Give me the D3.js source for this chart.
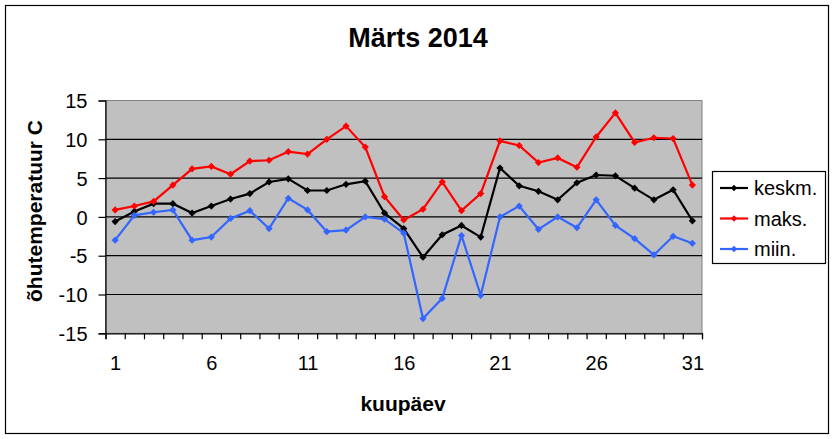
<!DOCTYPE html>
<html>
<head>
<meta charset="utf-8">
<script src="https://cdn.jsdelivr.net/npm/d3@7"></script>
<style>
  body { margin: 0; background: #fff; }
  text { font-family: "Liberation Sans", Arial, sans-serif; fill: #000; }
</style>
</head>
<body>
<div id="chart"></div>
<script>
// days of the month and the three temperature series
var days   = [1, 2, 3, 4, 5, 6, 7, 8, 9, 10, 11, 12, 13, 14, 15, 16,
              17, 18, 19, 20, 21, 22, 23, 24, 25, 26, 27, 28, 29, 30, 31];
var keskm  = [-0.6, 0.7, 1.7, 1.7, 0.5, 1.4, 2.3, 3.0, 4.5, 4.9, 3.4, 3.4, 4.2, 4.6, 0.5, -1.5,
              -5.2, -2.3, -1.1, -2.6, 6.3, 4.0, 3.3, 2.2, 4.4, 5.4, 5.3, 3.7, 2.2, 3.5, -0.5];
var maks   = [0.9, 1.4, 2.0, 4.1, 6.2, 6.5, 5.5, 7.2, 7.3, 8.4, 8.1, 10.0, 11.7, 9.0, 2.6, -0.4,
              1.0, 4.5, 0.8, 3.0, 9.8, 9.2, 7.0, 7.6, 6.4, 10.3, 13.4, 9.6, 10.2, 10.1, 4.1];
var miin   = [-3.0, 0.2, 0.6, 0.9, -3.0, -2.6, -0.2, 0.8, -1.5, 2.4, 0.9, -1.9, -1.7, 0.0, -0.3, -2.1,
              -13.1, -10.5, -2.4, -10.1, 0.0, 1.4, -1.6, 0.0, -1.4, 2.2, -1.1, -2.8, -4.9, -2.5, -3.4];
var yTicks = [-15, -10, -5, 0, 5, 10, 15];
var xLabels = [1, 6, 11, 16, 21, 26, 31];

var seriesNames  = ['keskm.', 'maks.', 'miin.'];
var seriesValues = [keskm, maks, miin];

var WIDTH = 835, HEIGHT = 439;
var PLOT = { left: 105.5, right: 702, top: 100.5, bottom: 333.3 };
var COLORS = ['#000000', '#ff0000', '#3366ff'];

var svg = d3.select('#chart')
            .append('svg')
            .attr('width', WIDTH)
            .attr('height', HEIGHT);

// outer chart border
svg.append('rect')
   .attr('x', 5.5).attr('y', 5.5)
   .attr('width', 823).attr('height', 428)
   .attr('fill', '#fff')
   .attr('stroke', '#000')
   .attr('stroke-width', 1.2);

// scales: days sit in the middle of each category slot
var x = d3.scaleLinear().domain([0.5, 31.5]).range([PLOT.left, PLOT.right]);
var y = d3.scaleLinear().domain([-15, 15]).range([PLOT.bottom, PLOT.top]);

// grey plot area
svg.append('rect')
   .attr('x', PLOT.left).attr('y', PLOT.top)
   .attr('width', PLOT.right - PLOT.left).attr('height', PLOT.bottom - PLOT.top)
   .attr('fill', '#c0c0c0')
   .attr('stroke', '#808080')
   .attr('stroke-width', 1);

// horizontal gridlines
svg.append('g')
   .selectAll('line')
   .data(yTicks.slice(1, -1))
   .enter()
   .append('line')
   .attr('x1', PLOT.left).attr('x2', PLOT.right)
   .attr('y1', function(d) { return y(d); })
   .attr('y2', function(d) { return y(d); })
   .attr('stroke', '#000')
   .attr('stroke-width', 1.2);

// plain hyphen minus like the original, not the unicode minus
var plain = function(d) { return String(d); };

// y axis
var yAxis = svg.append('g')
   .attr('transform', 'translate(' + PLOT.left + ',0)')
   .call(d3.axisLeft(y).tickValues(yTicks).tickSize(7).tickPadding(11).tickFormat(plain));
yAxis.selectAll('text').style('font-size', '20px').attr('dy', '0.36em');

// x axis: tick marks on the slot boundaries
svg.append('g')
   .attr('transform', 'translate(0,' + PLOT.bottom + ')')
   .call(d3.axisBottom(x).tickValues(d3.range(0.5, 32, 1)).tickSize(6).tickFormat(''));

// x axis labels every fifth day, centred in their slot
var xLabelAxis = svg.append('g')
   .attr('transform', 'translate(0,' + PLOT.bottom + ')')
   .call(d3.axisBottom(x).tickValues(xLabels).tickSize(0).tickPadding(23).tickFormat(plain));
xLabelAxis.select('.domain').remove();
xLabelAxis.selectAll('text').style('font-size', '20px');

svg.selectAll('.domain').attr('stroke', '#000').attr('stroke-width', 1.2);
svg.selectAll('.tick line').attr('stroke', '#000').attr('stroke-width', 1.2);

// square diamond marker
var diamond = {
    draw: function(ctx, size) {
        var r = Math.sqrt(size / 2);
        ctx.moveTo(0, -r); ctx.lineTo(r, 0); ctx.lineTo(0, r); ctx.lineTo(-r, 0); ctx.closePath();
    }
};

var line = d3.line()
             .x(function(d, i) { return x(days[i]); })
             .y(function(d) { return y(d); });

// draw each series: line then markers
seriesValues.forEach(function(values, s) {
    var g = svg.append('g');
    g.append('path')
     .attr('d', line(values))
     .attr('fill', 'none')
     .attr('stroke', COLORS[s])
     .attr('stroke-width', 2.2);
    g.selectAll('path.marker')
     .data(values)
     .enter()
     .append('path')
     .attr('class', 'marker')
     .attr('transform', function(d, i) { return 'translate(' + x(days[i]) + ',' + y(d) + ')'; })
     .attr('d', d3.symbol().type(diamond).size(26))
     .attr('fill', COLORS[s]);
});

// title
svg.append('text')
   .attr('x', 418).attr('y', 47)
   .attr('text-anchor', 'middle')
   .style('font-size', '27px')
   .style('font-weight', 'bold')
   .text('Märts 2014');

// axis titles
svg.append('text')
   .attr('x', 403).attr('y', 411)
   .attr('text-anchor', 'middle')
   .style('font-size', '21px')
   .style('font-weight', 'bold')
   .text('kuupäev');

svg.append('text')
   .attr('transform', 'translate(42,211) rotate(-90)')
   .attr('text-anchor', 'middle')
   .style('font-size', '21px')
   .style('font-weight', 'bold')
   .text('õhutemperatuur C');

// legend
var legend = svg.append('g');
legend.append('rect')
      .attr('x', 712.5).attr('y', 171.5)
      .attr('width', 113).attr('height', 92)
      .attr('fill', '#fff')
      .attr('stroke', '#000')
      .attr('stroke-width', 1.2);

var legendRows = legend.selectAll('g.row')
      .data(seriesNames)
      .enter()
      .append('g')
      .attr('class', 'row')
      .attr('transform', function(d, i) { return 'translate(0,' + (188 + i * 30.5) + ')'; });

legendRows.append('line')
      .attr('x1', 720).attr('x2', 748)
      .attr('stroke', function(d, i) { return COLORS[i]; })
      .attr('stroke-width', 2.2);
legendRows.append('path')
      .attr('transform', 'translate(734,0)')
      .attr('d', d3.symbol().type(diamond).size(20))
      .attr('fill', function(d, i) { return COLORS[i]; });
legendRows.append('text')
      .attr('x', 754).attr('dy', '0.35em')
      .style('font-size', '20px')
      .text(function(d) { return d; });
</script>
</body>
</html>
